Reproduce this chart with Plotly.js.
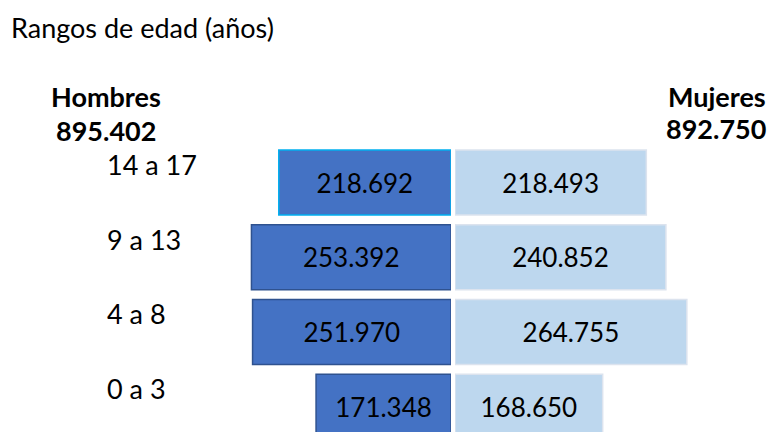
<!DOCTYPE html>
<html>
<head>
<meta charset="utf-8">
<script src="https://cdn.plot.ly/plotly-3.0.1.min.js"></script>
<style>html,body{margin:0;padding:0;background:#fff;}#chart{width:772px;height:432px;}</style>
</head>
<body>
<div id="chart"></div>
<script>
// Data (bottom to top)
const categories = ["0 a 3", "4 a 8", "9 a 13", "14 a 17"];
const hombres = [171348, 251970, 253392, 218692];
const mujeres = [168650, 264755, 240852, 218493];
const seriesNames = ["Hombres", "Mujeres"];
const titleText = "Rangos de edad (años)";

const W = 772, H = 432;
const FONT = "Lato, 'Open Sans', sans-serif";
const FS = 27;
const sum = a => a.reduce((s, v) => s + v, 0);
const fmt = n => n.toString().replace(/\B(?=(\d{3})+(?!\d))/g, ".");

const leftBorder = categories.map((c, i) => i === categories.length - 1 ? "#00B0F0" : "#2F528F");

const traces = [
  {
    type: "bar", orientation: "h", name: seriesNames[0],
    x: hombres, y: categories, xaxis: "x", yaxis: "y",
    width: 0.87,
    marker: {color: "#4472C4", line: {color: leftBorder, width: 1.5}},
    texttemplate: "%{x:,}", textposition: "inside", insidetextanchor: "middle",
    textfont: {family: FONT, size: 26, color: "#000"},
    hoverinfo: "skip"
  },
  {
    type: "bar", orientation: "h", name: seriesNames[1],
    x: mujeres, y: categories, xaxis: "x2", yaxis: "y",
    width: 0.87,
    marker: {color: "#BDD7EE", line: {color: "#DCE3EE", width: 1.5}},
    texttemplate: "%{x:,}", textposition: "inside", insidetextanchor: "middle",
    textfont: {family: FONT, size: 26, color: "#000"},
    hoverinfo: "skip"
  }
];

const hidden = {showgrid: false, zeroline: false, showticklabels: false, showline: false, ticks: "", fixedrange: true};

const annotations = categories.map(c => ({
  text: c, xref: "paper", x: 105 / W, xanchor: "left",
  yref: "y", y: c, yanchor: "middle", yshift: 18,
  showarrow: false, font: {family: FONT, size: FS, color: "#000"}
}));
annotations.push(
  {text: "<b>" + seriesNames[0] + "</b>", xref: "paper", yref: "paper", x: 106 / W, y: 1 - 97 / H,
   xanchor: "center", yanchor: "middle", showarrow: false, font: {family: FONT, size: FS, color: "#000"}},
  {text: "<b>" + fmt(sum(hombres)) + "</b>", xref: "paper", yref: "paper", x: 106 / W, y: 1 - 131 / H,
   xanchor: "center", yanchor: "middle", showarrow: false, font: {family: FONT, size: FS, color: "#000"}},
  {text: "<b>" + seriesNames[1] + "</b>", xref: "paper", yref: "paper", x: 768 / W, y: 1 - 96 / H,
   xanchor: "right", yanchor: "middle", showarrow: false, font: {family: FONT, size: FS, color: "#000"}},
  {text: "<b>" + fmt(sum(mujeres)) + "</b>", xref: "paper", yref: "paper", x: 768 / W, y: 1 - 128 / H,
   xanchor: "right", yanchor: "middle", showarrow: false, font: {family: FONT, size: FS, color: "#000"}}
);

const layout = {
  width: W, height: H,
  margin: {l: 0, r: 0, t: 0, b: 0, pad: 0},
  paper_bgcolor: "#fff", plot_bgcolor: "rgba(0,0,0,0)",
  showlegend: false,
  separators: ",.",
  title: {text: titleText, x: 11 / W, xanchor: "left", xref: "paper", y: 1 - 29 / H, yanchor: "middle",
          font: {family: FONT, size: FS, color: "#000"}},
  xaxis: Object.assign({domain: [0, 451 / W], range: [572700, 0], anchor: "y"}, hidden),
  xaxis2: Object.assign({domain: [455 / W, 1], range: [0, 362000], anchor: "y"}, hidden),
  yaxis: Object.assign({type: "category", categoryorder: "array", categoryarray: categories,
                        range: [-0.339, 5.444]}, hidden),
  annotations: annotations
};

Plotly.newPlot("chart", traces, layout, {displayModeBar: false, staticPlot: true});
</script>
</body>
</html>
